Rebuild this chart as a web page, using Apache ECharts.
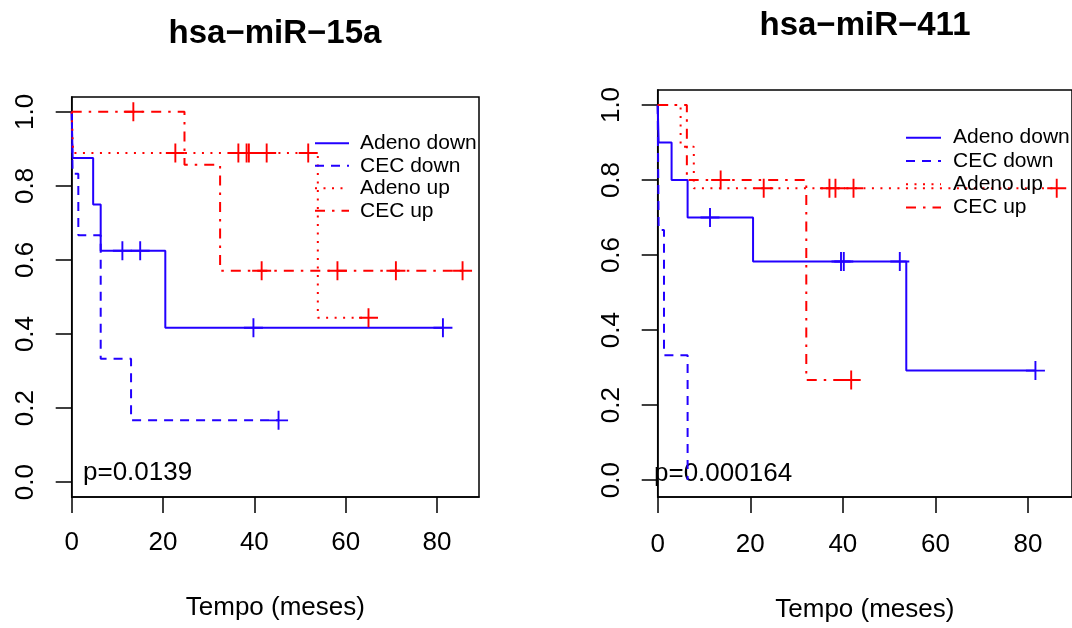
<!DOCTYPE html>
<html><head><meta charset="utf-8">
<script src="https://cdn.jsdelivr.net/npm/echarts/dist/echarts.min.js"></script>
<style>html,body{margin:0;padding:0;background:#fff}#c{width:1072px;height:628px}</style>
</head><body><div id="c"></div>
<script>
// ---------- text ----------
const titles = ['hsa\u2212miR\u221215a', 'hsa\u2212miR\u2212411'];
const pValues = ['p=0.0139', 'p=0.000164'];
const xAxisName = 'Tempo (meses)';
const xTicks = [0, 20, 40, 60, 80];
const yTicks = [0, 0.2, 0.4, 0.6, 0.8, 1.0];
const groupNames = ['Adeno down', 'CEC down', 'Adeno up', 'CEC up'];

// ---------- panel 1: hsa-miR-15a ----------
const p1AdenoDownT = [0, 0.2, 4.7, 6.35, 20.5, 81.3];
const p1AdenoDownS = [1, 0.875, 0.75, 0.625, 0.417, 0.417];
const p1AdenoDownCensT = [11.1, 15.0, 39.8, 81.3];
const p1AdenoDownCensS = [0.625, 0.625, 0.417, 0.417];

const p1CecDownT = [0, 0.2, 1.45, 6.35, 13.0, 45.3];
const p1CecDownS = [1, 0.833, 0.667, 0.333, 0.167, 0.167];
const p1CecDownCensT = [45.3];
const p1CecDownCensS = [0.167];

const p1AdenoUpT = [0, 0.3, 53.9, 65.0];
const p1AdenoUpS = [1, 0.889, 0.444, 0.444];
const p1AdenoUpCensT = [22.7, 36.5, 38.3, 38.8, 42.7, 51.8, 65.0];
const p1AdenoUpCensS = [0.889, 0.889, 0.889, 0.889, 0.889, 0.889, 0.444];

const p1CecUpT = [0, 24.7, 32.5, 85.6];
const p1CecUpS = [1, 0.857, 0.571, 0.571];
const p1CecUpCensT = [13.5, 41.6, 58.2, 71.0, 85.6];
const p1CecUpCensS = [1.0, 0.571, 0.571, 0.571, 0.571];

// ---------- panel 2: hsa-miR-411 ----------
const p2AdenoDownT = [0, 0.2, 3.0, 6.46, 20.6, 53.7, 81.6];
const p2AdenoDownS = [1, 0.9, 0.8, 0.7, 0.583, 0.292, 0.292];
const p2AdenoDownCensT = [11.3, 39.6, 40.2, 52.3, 81.6];
const p2AdenoDownCensS = [0.7, 0.583, 0.583, 0.583, 0.292];

const p2CecDownT = [0, 0.2, 1.36, 6.46];
const p2CecDownS = [1, 0.667, 0.333, 0.0];
const p2CecDownCensT = [];
const p2CecDownCensS = [];

const p2AdenoUpT = [0, 4.95, 7.8, 86.2];
const p2AdenoUpS = [1, 0.889, 0.778, 0.778];
const p2AdenoUpCensT = [22.9, 37.1, 38.4, 42.3, 86.2];
const p2AdenoUpCensS = [0.778, 0.778, 0.778, 0.778, 0.778];

const p2CecUpT = [0, 6.3, 32.1, 41.8];
const p2CecUpS = [1, 0.8, 0.267, 0.267];
const p2CecUpCensT = [13.6, 41.8];
const p2CecUpCensS = [0.8, 0.267];

// ---------- build ----------
const zip = (a, b) => a.map((v, i) => [v, b[i]]);
const BLUE = '#2200ff', RED = '#ff0000';
const styles = [
  { color: BLUE, type: 'solid' },
  { color: BLUE, type: [9, 7] },
  { color: RED, type: [2, 6.5] },
  { color: RED, type: [10, 7, 2.5, 7] }
];
const panels = [
  [[p1AdenoDownT, p1AdenoDownS, p1AdenoDownCensT, p1AdenoDownCensS],
   [p1CecDownT, p1CecDownS, p1CecDownCensT, p1CecDownCensS],
   [p1AdenoUpT, p1AdenoUpS, p1AdenoUpCensT, p1AdenoUpCensS],
   [p1CecUpT, p1CecUpS, p1CecUpCensT, p1CecUpCensS]],
  [[p2AdenoDownT, p2AdenoDownS, p2AdenoDownCensT, p2AdenoDownCensS],
   [p2CecDownT, p2CecDownS, p2CecDownCensT, p2CecDownCensS],
   [p2AdenoUpT, p2AdenoUpS, p2AdenoUpCensT, p2AdenoUpCensS],
   [p2CecUpT, p2CecUpS, p2CecUpCensT, p2CecUpCensS]]
];
const FONT = 'Liberation Sans';
const PLUS = 'path://M0,9H20V11H0Z M9,0H11V20H9Z';

const grids = [
  { left: 71.7, top: 97, width: 407.3, height: 400 },
  { left: 657.7, top: 90, width: 415.7, height: 408.8 }
];
const xRanges = [[0, 89.2], [0, 89.5]];
const yRanges = [[-0.04, 1.04], [-0.045, 1.04]];
const xLabelMargin = [33, 35];
const xNameGap = [98, 100];
const yLabelMargin = [33, 33];

const series = [];
panels.forEach((groups, p) => {
  groups.forEach((g, i) => {
    series.push({
      type: 'line', name: groupNames[i], xAxisIndex: p, yAxisIndex: p,
      step: 'end', symbol: 'none', data: zip(g[0], g[1]),
      lineStyle: { color: styles[i].color, width: 2, type: styles[i].type },
      itemStyle: { color: styles[i].color }, z: 3
    });
    series.push({
      type: 'scatter', name: 'cens' + p + i, xAxisIndex: p, yAxisIndex: p,
      data: zip(g[2], g[3]), symbol: PLUS, symbolSize: 19,
      itemStyle: { color: styles[i].color, opacity: 1 }, z: 4
    });
  });
});

const axisCommonLine = { show: true, onZero: false, lineStyle: { color: '#000', width: 1.5 } };
const option = {
  animation: false,
  backgroundColor: '#fff',
  grid: grids.map(g => Object.assign({ show: true, borderColor: '#000', borderWidth: 1.5, backgroundColor: 'transparent' }, g)),
  xAxis: [0, 1].map(p => ({
    type: 'value', gridIndex: p, min: xRanges[p][0], max: xRanges[p][1],
    axisLine: axisCommonLine,
    axisTick: { show: true, length: 16, lineStyle: { color: '#000', width: 1.5 }, customValues: xTicks },
    axisLabel: { customValues: xTicks, fontSize: 26, color: '#000', fontFamily: FONT, margin: xLabelMargin[p] },
    splitLine: { show: false },
    name: xAxisName, nameLocation: 'middle', nameGap: xNameGap[p],
    nameTextStyle: { fontSize: 26, color: '#000', fontFamily: FONT }
  })),
  yAxis: [0, 1].map(p => ({
    type: 'value', gridIndex: p, min: yRanges[p][0], max: yRanges[p][1],
    axisLine: axisCommonLine,
    axisTick: { show: true, length: 16, lineStyle: { color: '#000', width: 1.5 }, customValues: yTicks },
    axisLabel: { customValues: yTicks, rotate: 90, fontSize: 26, color: '#000', fontFamily: FONT,
      margin: yLabelMargin[p], formatter: v => v.toFixed(1) },
    splitLine: { show: false }
  })),
  legend: [
    { left: 309, top: 127, orient: 'vertical', itemWidth: 34, itemHeight: 12, itemGap: 0,
      selectedMode: false, data: groupNames, itemStyle: { opacity: 0 },
      textStyle: { fontSize: 21, lineHeight: 22.5, color: '#000', fontFamily: FONT, padding: [0, 0, 0, 6] } },
    { left: 900, top: 121.4, orient: 'vertical', itemWidth: 35, itemHeight: 12, itemGap: 0.8,
      selectedMode: false, data: groupNames, itemStyle: { opacity: 0 },
      textStyle: { fontSize: 21, lineHeight: 22.5, color: '#000', fontFamily: FONT, padding: [0, 0, 0, 7] } }
  ],
  graphic: [
    { type: 'text', x: 275, y: 34, style: { text: titles[0], align: 'center', verticalAlign: 'middle', fontSize: 33, fontWeight: 'bold', fontFamily: FONT, fill: '#000' } },
    { type: 'text', x: 865, y: 26, style: { text: titles[1], align: 'center', verticalAlign: 'middle', fontSize: 33, fontWeight: 'bold', fontFamily: FONT, fill: '#000' } },
    { type: 'text', x: 83, y: 473, style: { text: pValues[0], align: 'left', verticalAlign: 'middle', fontSize: 26, fontFamily: FONT, fill: '#000' } },
    { type: 'text', x: 654, y: 474, style: { text: pValues[1], align: 'left', verticalAlign: 'middle', fontSize: 26, fontFamily: FONT, fill: '#000' } }
  ],
  series: series
};
const chart = echarts.init(document.getElementById('c'), null, { renderer: 'canvas' });
chart.setOption(option);
</script>
</body></html>
